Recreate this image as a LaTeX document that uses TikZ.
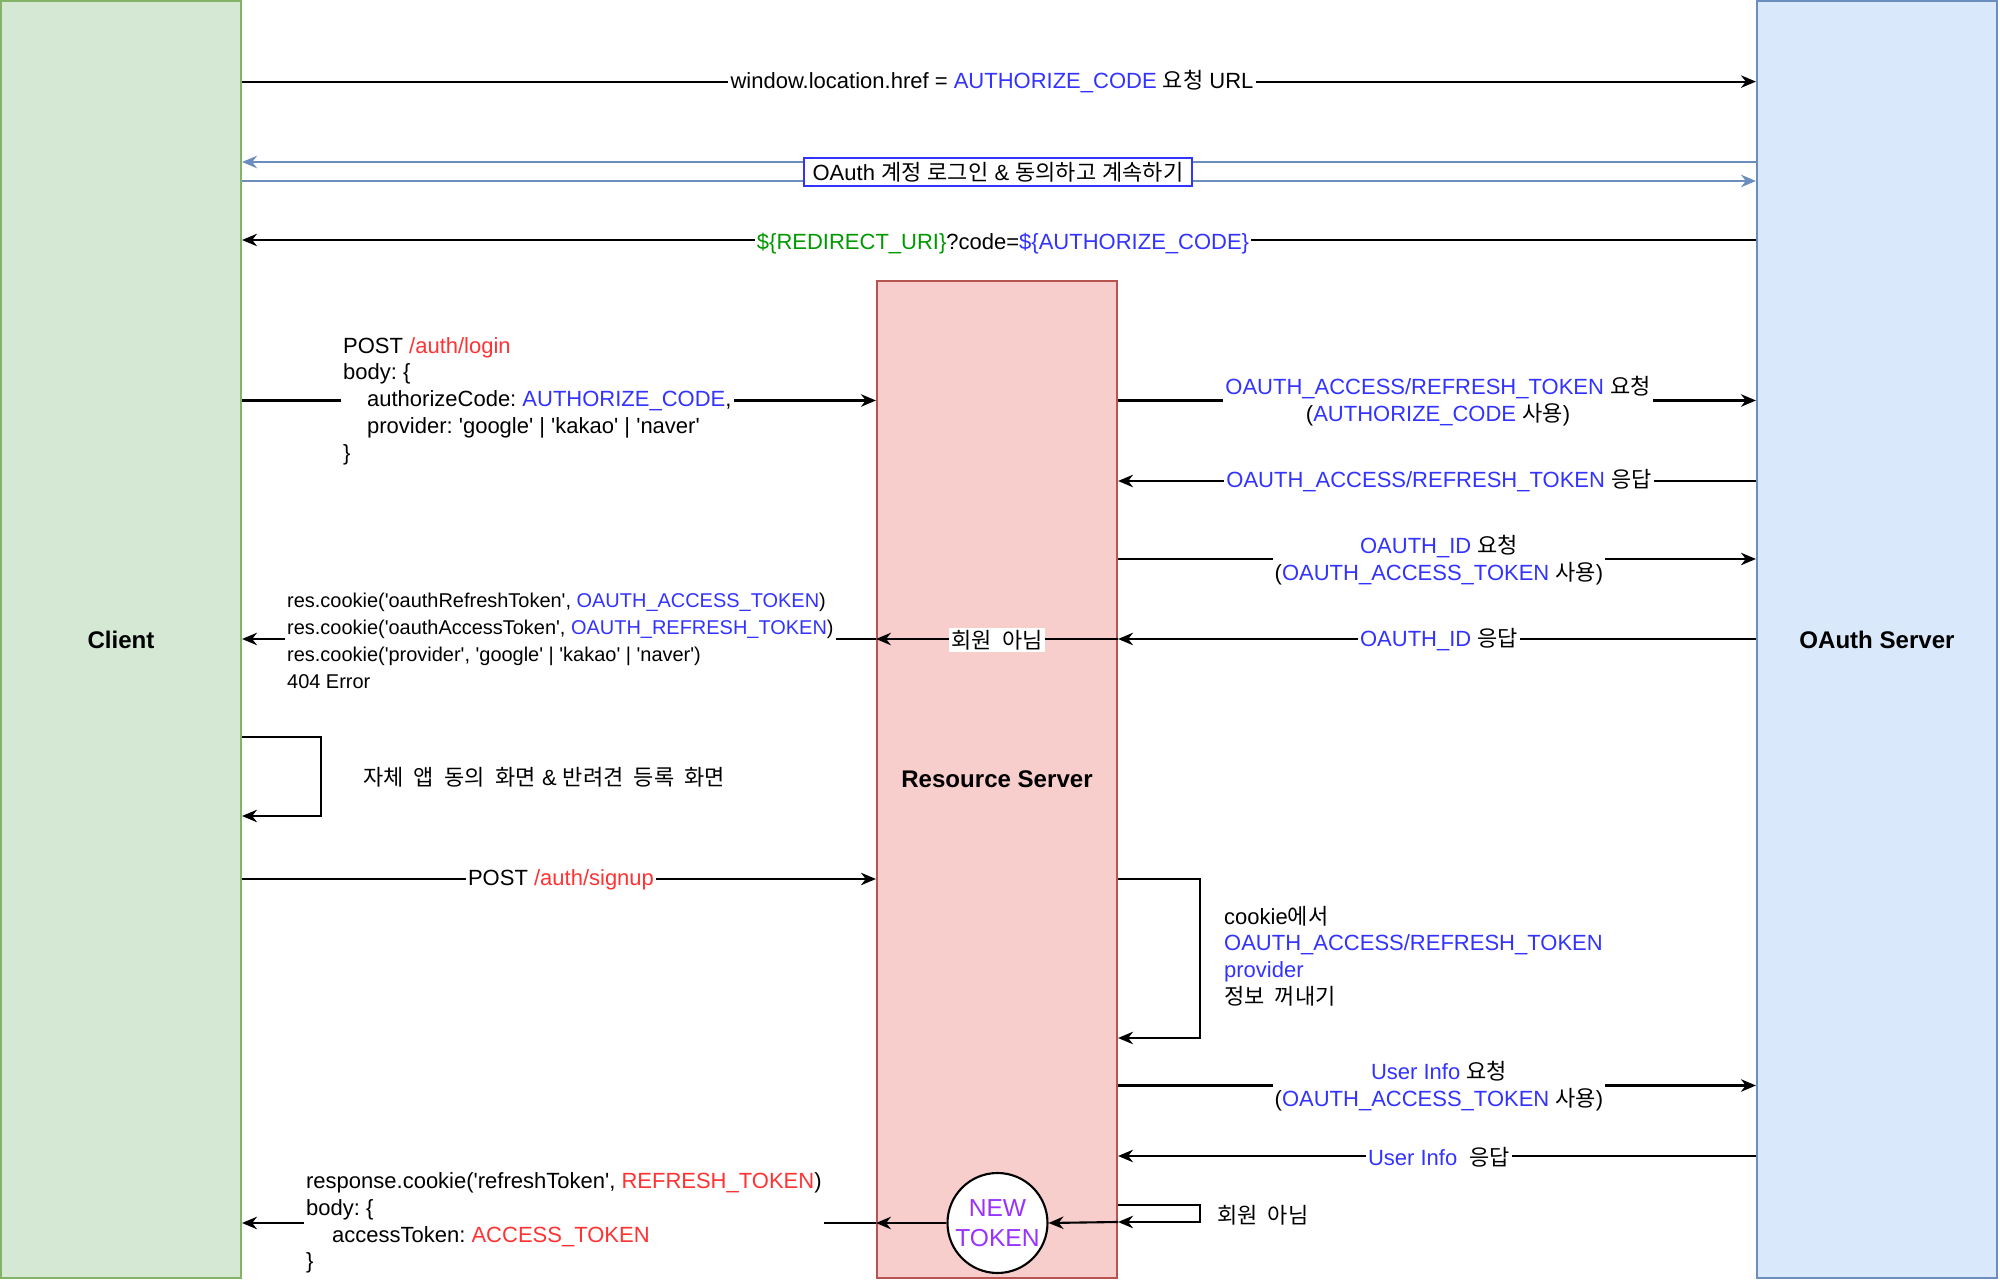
\documentclass[tikz,border=0pt]{standalone}
\usepackage{fontspec}
\setmainfont{Liberation Sans}[Ligatures=TeXOff]
\newfontfamily\hangulfont{Noto Sans CJK KR}[WordSpace=2.1]
\newcommand{\ko}[1]{{\hangulfont #1}}
\usetikzlibrary{arrows.meta}
\definecolor{kblue}{HTML}{3333FF}
\definecolor{kred}{HTML}{FF3333}
\definecolor{kgreen}{HTML}{009900}
\definecolor{kpurple}{HTML}{9933FF}
\definecolor{flowblue}{HTML}{6C8EBF}
\definecolor{clientfill}{HTML}{D5E8D4}
\definecolor{clientline}{HTML}{82B366}
\definecolor{oauthfill}{HTML}{DAE8FC}
\definecolor{rsfill}{HTML}{F8CECC}
\definecolor{rsline}{HTML}{B85450}
\tikzset{
  lane/.style={draw, line width=0.6pt, minimum width=2.4cm, inner sep=0pt,
    font=\fontsize{6.85}{8}\selectfont\bfseries},
  msg/.style={fill=white, inner sep=0.6pt, font=\fontsize{6.26}{7.6}\selectfont},
  msgsmall/.style={msg, font=\fontsize{5.68}{7.7}\selectfont},
  tokencircle/.style={circle, draw, fill=white, minimum size=1cm, inner sep=0pt,
    align=center, text=kpurple, font=\fontsize{7}{8.7}\selectfont}
}
\frenchspacing
\begin{document}
\begin{tikzpicture}[x=0.1mm, y=-0.1mm, >={Stealth[length=1.5mm, width=1.25mm]}, line width=0.6pt]
  \useasboundingbox (0,0) rectangle (2000,1281);

  % 1. 세 개의 레인
  \node[lane, fill=clientfill, draw=clientline, minimum height=12.77cm] (client) at (121,639.5) {Client};
  \node[lane, fill=oauthfill, draw=flowblue, minimum height=12.77cm] (oauth) at (1877,639.5) {OAuth Server};
  \node[lane, fill=rsfill, draw=rsline, minimum height=9.97cm] (rs) at (997,779.5) {Resource Server};

  % 2. 행 높이
  \coordinate (y1) at (0,81.6);
  \coordinate (y2a) at (0,162);
  \coordinate (y2b) at (0,181);
  \coordinate (y3) at (0,240);
  \coordinate (y4) at (0,400.5);
  \coordinate (y5) at (0,481);
  \coordinate (y6) at (0,559);
  \coordinate (y7) at (0,639);
  \coordinate (l1a) at (0,737);
  \coordinate (l1b) at (0,816);
  \coordinate (y8) at (0,879);
  \coordinate (l2b) at (0,1038);
  \coordinate (y9) at (0,1085.5);
  \coordinate (y10) at (0,1156);
  \coordinate (l3a) at (0,1205);
  \coordinate (l3b) at (0,1222);

  % 3. 인가 코드 받기
  \draw[->] (client.east |- y1) -- (oauth.west |- y1);
  \node[msg] (m1) at (992,82) {window.location.href = \textcolor{kblue}{AUTHORIZE\_CODE} \ko{요청} URL};
  \draw[->, flowblue] (oauth.west |- y2a) -- (client.east |- y2a);
  \draw[->, flowblue] (client.east |- y2b) -- (oauth.west |- y2b);
  \node[msg, draw=kblue, line width=0.5pt, inner xsep=2.4pt, inner ysep=1.2pt] (m2) at (998,172)
    {OAuth \ko{계정} \ko{로그인} \& \ko{동의하고} \ko{계속하기}};
  \draw[->] (oauth.west |- y3) -- (client.east |- y3);
  \node[msg] (m3) at (1003,244)
    {\textcolor{kgreen}{\$\{REDIRECT\_URI\}}?code=\textcolor{kblue}{\$\{AUTHORIZE\_CODE\}}};

  % 4. 로그인 요청과 토큰 발급
  \draw[->] (client.east |- y4) -- (rs.west |- y4);
  \node[msg, align=left, anchor=west] (m4) at (340,401)
    {POST \textcolor{kred}{/auth/login}\\
     body: \{\\
     \hspace*{0.24cm}authorizeCode: \textcolor{kblue}{AUTHORIZE\_CODE},\\
     \hspace*{0.24cm}provider: 'google' | 'kakao' | 'naver'\\
     \}};
  \draw[->] (rs.east |- y4) -- (oauth.west |- y4);
  \node[msg, align=center] (m5) at (1438,401)
    {\textcolor{kblue}{OAUTH\_ACCESS/REFRESH\_TOKEN} \ko{요청}\\
     (\textcolor{kblue}{AUTHORIZE\_CODE} \ko{사용})};
  \draw[->] (oauth.west |- y5) -- (rs.east |- y5);
  \node[msg] (m6) at (1439,481) {\textcolor{kblue}{OAUTH\_ACCESS/REFRESH\_TOKEN} \ko{응답}};
  \draw[->] (rs.east |- y6) -- (oauth.west |- y6);
  \node[msg, align=center] (m7) at (1439,560)
    {\textcolor{kblue}{OAUTH\_ID} \ko{요청}\\
     (\textcolor{kblue}{OAUTH\_ACCESS\_TOKEN} \ko{사용})};
  \draw[->] (oauth.west |- y7) -- (rs.east |- y7);
  \node[msg] (m8) at (1439,640) {\textcolor{kblue}{OAUTH\_ID} \ko{응답}};

  % 5. 회원이 아닐 때
  \draw[->] (rs.east |- y7) -- (rs.west |- y7);
  \node[msg] (m9) at (997,640) {\ko{회원 아님}};
  \draw[->] (rs.west |- y7) -- (client.east |- y7);
  \node[msgsmall, align=left, anchor=west] (m10) at (284,641)
    {res.cookie('oauthRefreshToken', \textcolor{kblue}{OAUTH\_ACCESS\_TOKEN})\\
     res.cookie('oauthAccessToken', \textcolor{kblue}{OAUTH\_REFRESH\_TOKEN})\\
     res.cookie('provider', 'google' | 'kakao' | 'naver')\\
     404 Error};
  \draw[->] (client.east |- l1a) -- ++(79,0) |- (client.east |- l1b);
  \node[msg, fill=none, anchor=west] (m11) at (360,777)
    {\ko{자체 앱 동의 화면} \& \ko{반려견 등록 화면}};

  % 6. 회원가입
  \draw[->] (client.east |- y8) -- (rs.west |- y8);
  \node[msg] (m12) at (561,880) {POST \textcolor{kred}{/auth/signup}};
  \draw[->] (rs.east |- y8) -- ++(82,0) |- (rs.east |- l2b);
  \node[msg, fill=none, align=left, anchor=west] (m13) at (1221,956)
    {cookie\ko{에서}\\
     \textcolor{kblue}{OAUTH\_ACCESS/REFRESH\_TOKEN}\\
     \textcolor{kblue}{provider}\\
     \ko{정보 꺼내기}};
  \draw[->] (rs.east |- y9) -- (oauth.west |- y9);
  \node[msg, align=center] (m14) at (1439,1086)
    {\textcolor{kblue}{User Info} \ko{요청}\\
     (\textcolor{kblue}{OAUTH\_ACCESS\_TOKEN} \ko{사용})};
  \draw[->] (oauth.west |- y10) -- (rs.east |- y10);
  \node[msg] (m15) at (1439,1157) {\textcolor{kblue}{User Info}\ \ \ko{응답}};

  % 7. 새 토큰 발급
  \draw[->] (rs.east |- l3a) -- ++(82,0) |- (rs.east |- l3b);
  \node[msg, fill=none, anchor=west] (m16) at (1214,1215) {\ko{회원 아님}};
  \node[tokencircle] (newtok) at (997.5,1223) {NEW\\TOKEN};
  \draw[->] (rs.east |- l3b) -- (newtok.east);
  \draw[->] (newtok.west) -- (rs.west |- newtok);
  \draw[->] (rs.west |- newtok) -- (client.east |- newtok);
  \node[msg, align=left, anchor=west] (m17) at (303,1223)
    {response.cookie('refreshToken', \textcolor{kred}{REFRESH\_TOKEN})\\
     body: \{\\
     \hspace*{0.26cm}accessToken: \textcolor{kred}{ACCESS\_TOKEN}\\
     \}};
\end{tikzpicture}
\end{document}
